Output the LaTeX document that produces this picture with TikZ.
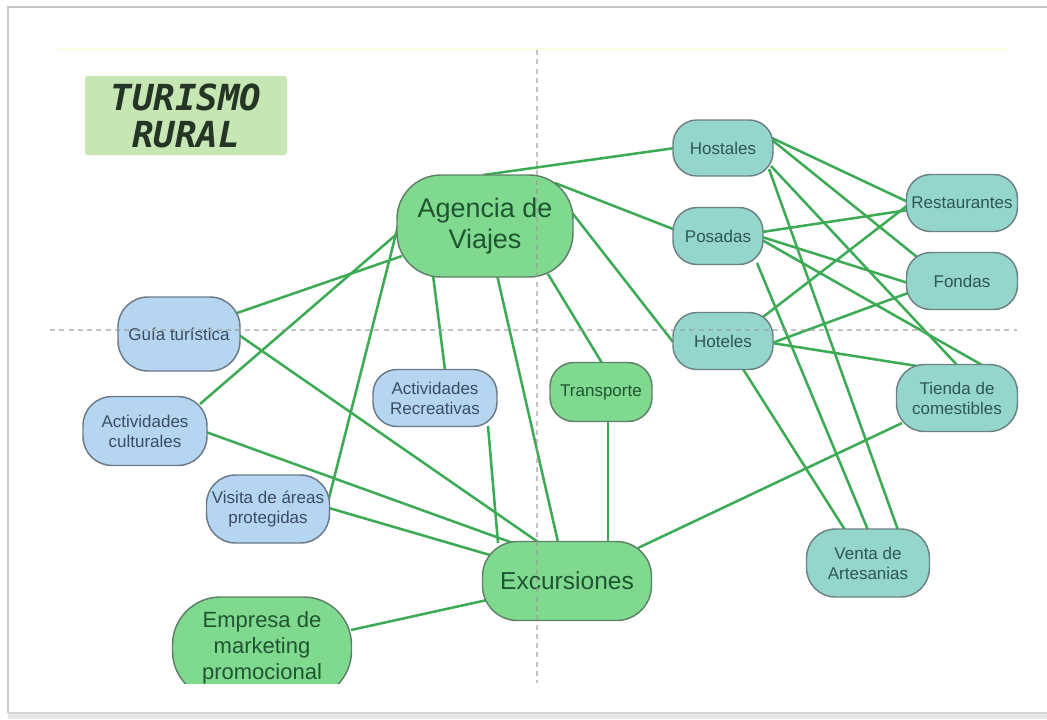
\documentclass[tikz,border=0pt]{standalone}
\usepackage{fontspec}
\setmainfont{Liberation Sans}
\newfontfamily\titlefont{DejaVu Sans Mono}
\usetikzlibrary{calc,backgrounds}

\definecolor{greenfill}{HTML}{7FD98F}
\definecolor{greenline}{HTML}{5F8068}
\definecolor{greentext}{HTML}{1F5530}
\definecolor{bluefill}{HTML}{B5D5F0}
\definecolor{blueline}{HTML}{6C7A88}
\definecolor{bluetext}{HTML}{3A4D63}
\definecolor{tealfill}{HTML}{95D6CC}
\definecolor{tealline}{HTML}{6C8282}
\definecolor{tealtext}{HTML}{2D5656}
\definecolor{linkgreen}{HTML}{3DAA55}
\definecolor{guide}{HTML}{9A9A9A}
\definecolor{titlefill}{HTML}{C6E6B3}
\definecolor{titletext}{HTML}{253525}
\definecolor{framegray}{HTML}{C8C8C8}

\tikzset{
  size/.style n args={3}{minimum width=#1*0.75pt, minimum height=#2*0.75pt,
    rounded corners=#3*0.75pt},
  topic/.style={draw, line width=1.1pt, inner sep=0pt, align=center,
    font=\fontsize{12.75}{15}\selectfont},
  greenbox/.style={topic, fill=greenfill, draw=greenline, text=greentext},
  bluebox/.style={topic, fill=bluefill, draw=blueline, text=bluetext},
  tealbox/.style={topic, fill=tealfill, draw=tealline, text=tealtext},
  link/.style={draw=linkgreen, line width=1.9pt},
  guideline/.style={draw=guide, line width=0.9pt, dash pattern=on 3.75pt off 3.2pt,
    opacity=0.6},
}

\begin{document}
\begin{tikzpicture}[x=0.75pt,y=-0.75pt]
  \useasboundingbox (0,0) rectangle (1047,719);
  \begin{scope}[on background layer]
    \fill[white] (0,0) rectangle (1047,719);
  \end{scope}

  % faint page edge line
  \draw[draw=yellow!10, line width=2.2pt] (57,49) -- (1008,49);

  \begin{scope}
    \clip (9,8) rectangle (1047,683);

    % title
    \node[fill=titlefill, minimum width=202*0.75pt, minimum height=79*0.75pt,
      rounded corners=2pt, inner sep=0pt, align=center, text=titletext,
      font=\titlefont\bfseries\itshape\fontsize{26.9}{27.75}\selectfont]
      (title) at (186,115.5) {TURISMO\\RURAL};

    % central nodes
    \node[greenbox, size={176}{102}{44}, font=\fontsize{20.2}{23.3}\selectfont]
      (ag) at (485,226) {Agencia de\\Viajes};
    \node[greenbox, size={169}{79}{35}, font=\fontsize{18.4}{22}\selectfont]
      (exc) at (567,581) {Excursiones};
    \node[greenbox, size={179}{102}{48}, font=\fontsize{16.5}{19.5}\selectfont]
      (emp) at (262,648) {Empresa de\\marketing\\promocional};
    \node[greenbox, size={102}{59}{24}] (tra) at (601,392) {Transporte};

    % activities
    \node[bluebox, size={122}{74}{30}] (gui) at (179,334) {Guía turística};
    \node[bluebox, size={124}{69}{29}] (cul) at (145,431) {Actividades\\culturales};
    \node[bluebox, size={123}{68}{29}] (vis) at (268,509) {Visita de áreas\\protegidas};
    \node[bluebox, size={124}{57}{24}] (rec) at (435,398) {Actividades\\Recreativas};

    % lodging
    \node[tealbox, size={100}{56}{24}] (hos) at (723,148) {Hostales};
    \node[tealbox, size={90}{57}{24}]  (pos) at (718,236) {Posadas};
    \node[tealbox, size={100}{57}{24}] (hot) at (723,341) {Hoteles};

    % services
    \node[tealbox, size={111}{57}{24}] (res) at (962,203) {Restaurantes};
    \node[tealbox, size={111}{57}{24}] (fon) at (962,281) {Fondas};
    \node[tealbox, size={121}{67}{28}] (tie) at (957,398) {Tienda de\\comestibles};
    \node[tealbox, size={123}{68}{29}] (ven) at (868,563) {Venta de\\Artesanias};

    % connectors, behind the nodes
    \begin{scope}[on background layer]
      \draw[link] ($(ag)+(-2,-51)$) -- ($(hos)+(-48,0)$);
      \draw[link] ($(ag)+(70,-43)$) -- ($(pos)+(-45,-7)$);
      \draw[link] ($(ag)+(85,-16)$) -- ($(hot)+(-50,1)$);
      \draw[link] ($(ag)+(63,48)$) -- ($(tra)+(1,-29)$);
      \draw[link] ($(ag)+(12,49)$) -- ($(exc)+(-9,-39)$);
      \draw[link] ($(ag)+(-52,49)$) -- ($(rec)+(10,-28)$);
      \draw[link] ($(ag)+(-83,30)$) -- ($(gui)+(58,-21)$);
      \draw[link] ($(ag)+(-87,7)$) -- ($(cul)+(55,-27)$);
      \draw[link] ($(ag)+(-86,-4)$) -- ($(vis)+(60,-7)$);

      \draw[link] ($(gui)+(60,1)$) -- ($(exc)+(-29,-39)$);
      \draw[link] ($(cul)+(61,1)$) -- ($(exc)+(-54,-38)$);
      \draw[link] ($(vis)+(61,-1)$) -- ($(exc)+(-77,-26)$);
      \draw[link] ($(rec)+(53,28)$) -- ($(exc)+(-69,-38)$);
      \draw[link] ($(tra)+(7,29)$) -- ($(exc)+(41,-39)$);
      \draw[link] ($(exc)+(71,-33)$) -- ($(tie)+(-55,25)$);
      \draw[link] ($(emp)+(89,-18)$) -- ($(exc)+(-80,19)$);

      \draw[link] ($(hos)+(49,-10)$) -- ($(res)+(-54,-1)$);
      \draw[link] ($(hos)+(49,-8)$) -- ($(fon)+(-45,-24)$);
      \draw[link] ($(hos)+(48,18)$) -- ($(tie)+(0,-33)$);
      \draw[link] ($(hos)+(46,21)$) -- ($(ven)+(30,-33)$);

      \draw[link] ($(pos)+(44,-4)$) -- ($(res)+(-54,7)$);
      \draw[link] ($(pos)+(44,1)$) -- ($(fon)+(-54,2)$);
      \draw[link] ($(pos)+(44,4)$) -- ($(tie)+(25,-33)$);
      \draw[link] ($(pos)+(39,27)$) -- ($(ven)+(0,-33)$);

      \draw[link] ($(hot)+(40,-24)$) -- ($(res)+(-54,2)$);
      \draw[link] ($(hot)+(49,2)$) -- ($(fon)+(-54,12)$);
      \draw[link] ($(hot)+(49,2)$) -- ($(tie)+(-40,-32)$);
      \draw[link] ($(hot)+(20,28)$) -- ($(ven)+(-23,-33)$);
    \end{scope}

    % dashed quadrant guides
    \draw[guideline] (537,50) -- (537,683);
    \draw[guideline] (50,330) -- (1017,330);
  \end{scope}

  % screenshot frame
  \fill[framegray!45] (8,713) rectangle (1047,719);
  \draw[framegray, line width=1.3pt] (8,713) -- (8,7) -- (1047,7);
  \draw[framegray!80, line width=0.8pt] (8,713) -- (1047,713);
\end{tikzpicture}
\end{document}
